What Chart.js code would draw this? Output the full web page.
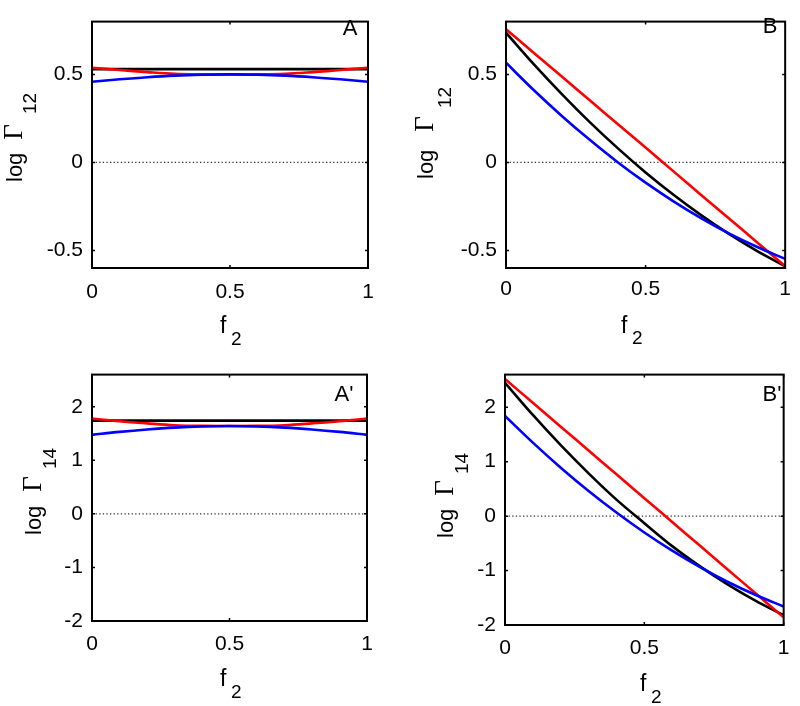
<!DOCTYPE html>
<html><head><meta charset="utf-8">
<script src="https://cdn.jsdelivr.net/npm/chart.js@4.4.1/dist/chart.umd.min.js"></script>
<style>
html,body{margin:0;padding:0;background:#fff;}
#wrap{position:relative;width:800px;height:706px;background:#fff;overflow:hidden;}
.p{position:absolute;width:400px;height:353px;}
.p canvas{display:block;}
</style></head><body>
<div id="wrap">
<div class="p" style="left:0;top:0"><canvas id="cA" width="400" height="353"></canvas></div>
<div class="p" style="left:400px;top:0"><canvas id="cB" width="400" height="353"></canvas></div>
<div class="p" style="left:0;top:353px"><canvas id="cA2" width="400" height="353"></canvas></div>
<div class="p" style="left:400px;top:353px"><canvas id="cB2" width="400" height="353"></canvas></div>
</div>
<script>
// ---- data ----
const f2 = [0, 0.1, 0.2, 0.3, 0.4, 0.5, 0.6, 0.7, 0.8, 0.9, 1];
const xTickValues = [0, 0.5, 1];
const yTicksTop = [-0.5, 0, 0.5];
const yTicksBottom = [-2, -1, 0, 1, 2];

// Panel A : log Γ12
const A_black = [0.53, 0.53, 0.53, 0.53, 0.53, 0.53, 0.53, 0.53, 0.53, 0.53, 0.53];
const A_red   = [0.538, 0.525, 0.513, 0.503, 0.5, 0.5, 0.5, 0.503, 0.513, 0.525, 0.538];
const A_blue  = [0.458, 0.472, 0.484, 0.493, 0.498, 0.5, 0.498, 0.493, 0.484, 0.472, 0.458];
// Panel B : log Γ12
const B_black = [0.737, 0.557, 0.388, 0.229, 0.081, -0.057, -0.184, -0.301, -0.408, -0.504, -0.59];
const B_red   = [0.757, 0.622, 0.488, 0.353, 0.218, 0.084, -0.051, -0.186, -0.320, -0.455, -0.59];
const B_blue  = [0.566, 0.41, 0.264, 0.128, 0.001, -0.115, -0.221, -0.318, -0.405, -0.481, -0.548];
// Panel A' : log Γ14
const A2_black = [1.74, 1.74, 1.74, 1.74, 1.74, 1.74, 1.74, 1.74, 1.74, 1.74, 1.74];
const A2_red   = [1.78, 1.73, 1.69, 1.655, 1.642, 1.64, 1.642, 1.655, 1.69, 1.73, 1.78];
const A2_blue  = [1.475, 1.53, 1.575, 1.61, 1.632, 1.64, 1.632, 1.61, 1.575, 1.53, 1.475];
// Panel B' : log Γ14
const B2_black = [2.45, 1.858, 1.303, 0.786, 0.303, -0.13, -0.551, -0.923, -1.258, -1.557, -1.82];
const B2_red   = [2.52, 2.082, 1.644, 1.206, 0.768, 0.33, -0.108, -0.546, -0.984, -1.422, -1.86];
const B2_blue  = [1.84, 1.35, 0.89, 0.462, 0.066, -0.30, -0.634, -0.938, -1.21, -1.45, -1.66];

const FONT = "'Liberation Sans', Arial, Helvetica, sans-serif";
const SERIF = "'Liberation Serif', 'Times New Roman', serif";

function pts(ys){ return f2.map((x,i)=>({x:x, y:ys[i]})); }

function makeChart(id, cfg){
  const ox = cfg.ox, oy = cfg.oy;
  const deco = {
    id:'deco',
    afterDatasetsDraw(chart){
      const ctx = chart.ctx, a = chart.chartArea;
      const xs = chart.scales.x, ys = chart.scales.y;
      ctx.save();
      ctx.strokeStyle = '#000';
      ctx.lineWidth = 1.5;
      // inward tick marks
      cfg.yTicks.forEach(v=>{
        const py = ys.getPixelForValue(v);
        ctx.beginPath();
        ctx.moveTo(a.left, py); ctx.lineTo(a.left+3, py);
        ctx.moveTo(a.right, py); ctx.lineTo(a.right-3, py);
        ctx.stroke();
      });
      xTickValues.forEach(v=>{
        const px = xs.getPixelForValue(v);
        ctx.beginPath();
        ctx.moveTo(px, a.bottom); ctx.lineTo(px, a.bottom-3);
        ctx.moveTo(px, a.top); ctx.lineTo(px, a.top+3);
        ctx.stroke();
      });
      // frame
      ctx.lineWidth = 2;
      ctx.strokeRect(a.left, a.top, a.right-a.left, a.bottom-a.top);
      // panel letter
      ctx.fillStyle = '#000';
      ctx.font = '22px ' + FONT;
      ctx.textAlign = 'center';
      ctx.textBaseline = 'middle';
      ctx.fillText(cfg.letter, cfg.letterX-ox, cfg.letterY-oy);
      // x title f2
      ctx.textAlign = 'left';
      ctx.textBaseline = 'alphabetic';
      ctx.font = '23px ' + FONT;
      ctx.fillText('f', cfg.fX-ox, cfg.fBase-oy);
      ctx.font = '19px ' + FONT;
      ctx.fillText('2', cfg.subX-ox, cfg.subBase-oy);
      // y title log Γ12 (rotated)
      const drawRot = (text, font, x, y, align)=>{
        ctx.save();
        ctx.translate(x-ox, y-oy);
        ctx.rotate(-Math.PI/2);
        ctx.font = font;
        ctx.textAlign = align;
        ctx.fillText(text, 0, 0);
        ctx.restore();
      };
      drawRot('log', '22px ' + FONT, cfg.yBase, cfg.logBottom, 'left');
      drawRot('\u0393', '27px ' + SERIF, cfg.yBase, cfg.gammaC, 'center');
      drawRot(cfg.sub, '19px ' + FONT, cfg.ySubBase, cfg.subBottom, 'left');
      ctx.restore();
    }
  };
  return new Chart(document.getElementById(id), {
    type:'line',
    data:{ datasets:[
      {data:pts(cfg.blue), borderColor:'#0000ff', borderWidth:2.6, pointRadius:0, tension:0.35, fill:false},
      {data:pts(cfg.red), borderColor:'#ff0000', borderWidth:2.6, pointRadius:0, tension:0.35, fill:false},
      {data:pts(cfg.black), borderColor:'#000000', borderWidth:2.6, pointRadius:0, tension:0.35, fill:false},
      {data:[{x:0,y:0},{x:1,y:0}], borderColor:'#333', borderWidth:1.3, borderDash:[1.3,2.3], pointRadius:0, fill:false}
    ]},
    options:{
      responsive:false, animation:false, devicePixelRatio:1,
      layout:{padding:{top:cfg.padTop, right:cfg.padRight, left:0, bottom:0}},
      scales:{
        x:{type:'linear', min:0, max:1,
           afterBuildTicks:s=>{ s.ticks = xTickValues.map(v=>({value:v})); },
           afterFit:s=>{ s.height = cfg.xH; },
           grid:{display:false, drawTicks:false}, border:{display:false},
           ticks:{padding:cfg.xPad, color:'#000', font:{size:21, family:FONT}, maxRotation:0, autoSkip:false, callback:v=>String(v)}},
        y:{type:'linear', min:cfg.yMin, max:cfg.yMax,
           afterBuildTicks:s=>{ s.ticks = cfg.yTicks.map(v=>({value:v})); },
           afterFit:s=>{ s.width = cfg.yW; },
           grid:{display:false, drawTicks:false}, border:{display:false},
           ticks:{padding:9, color:'#000', font:{size:21, family:FONT}, autoSkip:false, callback:v=>String(v)}}
      },
      plugins:{legend:{display:false}, tooltip:{enabled:false}}
    },
    plugins:[deco]
  });
}

makeChart('cA', {ox:0, oy:0, padTop:10, padRight:32, yW:92, xH:85, xPad:11.5,
  yMin:-0.6, yMax:0.8, yTicks:yTicksTop, black:A_black, red:A_red, blue:A_blue,
  letter:'A', letterX:350, letterY:29, fX:220, fBase:333, subX:231, subBase:345,
  yBase:22, logBottom:182, gammaC:132, ySubBase:36, subBottom:114, sub:'12'});
makeChart('cB', {ox:400, oy:0, padTop:4, padRight:6, yW:106, xH:85, xPad:9,
  yMin:-0.6, yMax:0.8, yTicks:yTicksTop, black:B_black, red:B_red, blue:B_blue,
  letter:'B', letterX:770, letterY:27, fX:621, fBase:333, subX:632, subBase:344,
  yBase:433, logBottom:179, gammaC:124, ySubBase:451, subBottom:108, sub:'12'});
makeChart('cA2', {ox:0, oy:353, padTop:11, padRight:33, yW:92, xH:85, xPad:11,
  yMin:-2, yMax:2.6, yTicks:yTicksBottom, black:A2_black, red:A2_red, blue:A2_blue,
  letter:"A'", letterX:344, letterY:395, fX:220, fBase:686, subX:231, subBase:698,
  yBase:41, logBottom:535, gammaC:484, ySubBase:56, subBottom:469, sub:'14'});
makeChart('cB2', {ox:400, oy:353, padTop:12, padRight:6, yW:105, xH:81, xPad:10.5,
  yMin:-2, yMax:2.6, yTicks:yTicksBottom, black:B2_black, red:B2_red, blue:B2_blue,
  letter:"B'", letterX:772, letterY:395, fX:640, fBase:691, subX:651, subBase:703,
  yBase:453, logBottom:538, gammaC:488, ySubBase:468, subBottom:474, sub:'14'});
</script>
</body></html>
